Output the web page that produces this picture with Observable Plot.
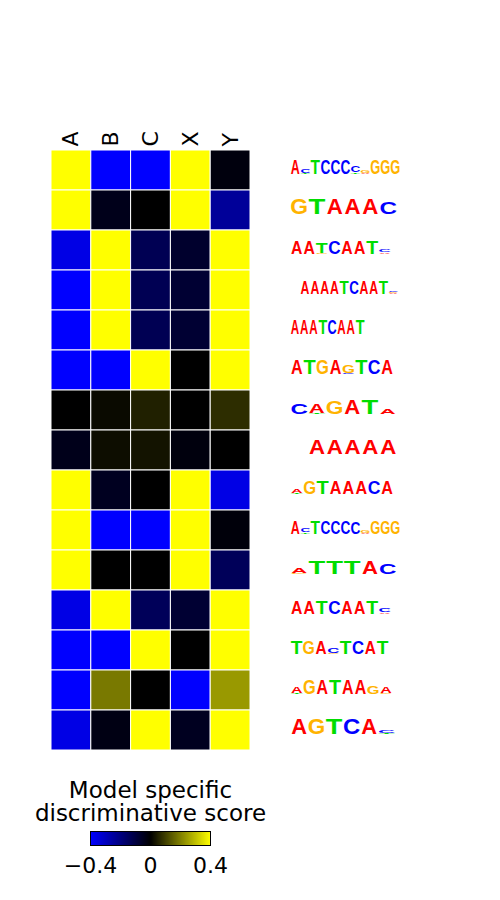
<!DOCTYPE html>
<html><head><meta charset="utf-8">
<script src="https://cdn.jsdelivr.net/npm/d3@7"></script>
<script src="https://cdn.jsdelivr.net/npm/@observablehq/plot@0.6"></script>
<style>body{margin:0;background:#fff;} #chart{width:500px;} svg{display:block;}</style>
</head><body><div id="chart"></div>
<script>
// ---- data ----
const columns = ["A", "B", "C", "X", "Y"];
const motifs = ["ACTCCCCGGG", "GTAAAC", "AATCAATC", "AAAATCAAT", "AAATCAAT", "ATGAGTCA", "CAGAT", "AAAAA",
  "AGTAAACA", "ACTCCCCGGG", "ATTTAC", "AATCAATC", "TGACTCAT", "AGATAAGA", "AGTCAC"];
const scoresA = [0.45, 0.45, -0.36, -0.4, -0.4, -0.4, 0.0, -0.04, 0.45, 0.45, 0.45, -0.36, -0.4, -0.4, -0.36];
const scoresB = [-0.4, -0.04, 0.45, 0.45, 0.45, -0.4, 0.015, 0.02, -0.05, -0.4, 0.0, 0.45, -0.4, 0.19, -0.03];
const scoresC = [-0.4, 0.0, -0.13, -0.13, -0.13, 0.45, 0.05, 0.03, 0.0, -0.4, 0.0, -0.14, 0.45, 0.0, 0.45];
const scoresX = [0.45, 0.45, -0.07, -0.08, -0.08, 0.0, 0.0, -0.02, 0.45, 0.45, 0.45, -0.08, 0.0, -0.4, -0.05];
const scoresY = [-0.02, -0.24, 0.45, 0.45, 0.45, 0.45, 0.07, 0.0, -0.36, -0.015, -0.14, 0.45, 0.45, 0.24, 0.45];
// sequence logos: positions separated by "|", letters stacked bottom->top with heights (bits)
const logos = [
  "A1.75|T.12C.45|T1.75|C1.75|C1.75|C1.75|T.2C.8|A.12G.3|G1.75|G1.75|G1.75",
  "G1.9|T1.9|A1.9|A1.9|A1.9|C1.5",
  "A1.65|A1.65|G.12T1.35|C1.65|A1.65|A1.65|T1.65|A.15C.35",
  "-|A1.6|A1.6|A1.6|A1.6|T1.6|C1.6|A1.6|A1.6|T1.6|A.1G.1C.2",
  "A1.8|A1.8|A1.8|T1.8|C1.8|A1.8|A1.8|T1.8",
  "A1.75|T1.75|G1.75|A1.75|C.12G1.0|T1.75|C1.75|A1.75",
  "C1.25|T.12A1.1|G1.6|A1.8|T1.8|A.6",
  "-|A1.85|A1.85|A1.85|A1.85|A1.85",
  "T.12A.5|G1.6|T1.6|A1.6|A1.6|A1.6|C1.6|A1.6",
  "A1.65|T.15C.4|T1.65|C1.65|C1.65|C1.65|C1.45|A.12G.35|G1.65|G1.65|G1.65",
  "G.12A.7|T1.65|T1.65|T1.65|A1.7|C1.25",
  "A1.6|A1.6|T1.6|C1.6|A1.6|A1.6|T1.6|A.15C.45",
  "T1.6|G1.6|A1.6|G.12C.7|T1.6|C1.6|A1.6|T1.6",
  "T.1A.75|G1.8|A1.8|T1.8|A1.8|A1.8|G.9|G.12A.75",
  "A1.9|G1.9|T1.9|C1.9|A1.9|T.12C.35"
];
const legendTitle = "Model specific\ndiscriminative score";
const legendTicks = [-0.4, 0, 0.4];

// ---- layout / style ----
const logoPitch = [10, 17.8, 12.6, 9.8, 9.3, 12.9, 17.7, 17.8, 12.9, 10, 17.7, 12.6, 12.3, 12.75, 17.5]; // px per logo column
const letterColor = {A: "#ff0000", C: "#0000ff", G: "#ffb300", T: "#00dd00"};
const inkWidth = {A: 0.72, C: 0.66, G: 0.70, T: 0.58};
const PX_PER_BIT = 8, FS = 10, CAP = 0.716;
const colPx = 199 / 5, rowPx = 40;
const logoStart = 6.0;

const allScores = [scoresA, scoresB, scoresC, scoresX, scoresY];
const cells = [];
motifs.forEach((m, r) => columns.forEach((c, j) => cells.push({row: r, col: j, value: allScores[j][r]})));

const letters = [];
logos.forEach((lg, r) => {
  lg.split("|").forEach((p, pos) => {
    if (p === "-") return;
    let off = 0;
    for (const mm of p.matchAll(/([ACGT])([\d.]+)/g)) {
      const h = +mm[2];
      letters.push({row: r, pos, letter: mm[1], h, off, pitch: logoPitch[r],
        x: logoStart + (pos + 0.5) * logoPitch[r] / colPx,
        y: r + 0.5 + 0.075 - off * PX_PER_BIT / rowPx});
      off += h;
    }
  });
});

const colorScale = {type: "linear", domain: [-0.4, 0, 0.4], range: ["#0000ff", "#000000", "#ffff00"], clamp: true, interpolate: "rgb"};

const main = Plot.plot({
  width: 500, height: 760,
  marginLeft: 51, marginRight: 250, marginTop: 150, marginBottom: 10,
  style: {fontFamily: "DejaVu Sans", background: "white"},
  x: {domain: [0, 5], axis: null},
  y: {domain: [0, 15], reverse: true, axis: null},
  color: colorScale,
  marks: [
    Plot.rect(cells, {x1: "col", x2: d => d.col + 1, y1: "row", y2: d => d.row + 1, fill: "value", stroke: "white", strokeWidth: 1}),
    Plot.text(columns, {x: (d, i) => i + 0.5, y: () => 0, text: d => d, rotate: -90, textAnchor: "start", dy: -4, fontSize: 22, fill: "black"}),
    Plot.text(letters, {x: "x", y: "y", text: "letter", fill: d => letterColor[d.letter], textAnchor: "middle", lineAnchor: "bottom",
      fontSize: FS, fontWeight: "bold", fontFamily: "Liberation Sans", ariaLabel: d => "logo " + d.letter})
  ]
});

// stretch logo letters to their column width and information height
const xs = main.scale("x"), ys = main.scale("y");
d3.select(main).selectAll('text[aria-label^="logo"]').each(function(d, i) {
  const L = letters[typeof d === "number" ? d : i];
  const px = xs.apply(L.x), py = ys.apply(L.y);
  const sx = (L.pitch * 0.9) / (inkWidth[L.letter] * FS);
  const sy = (L.h * PX_PER_BIT) / (CAP * FS);
  this.removeAttribute("x"); this.removeAttribute("y");
  this.setAttribute("transform", `translate(${px},${py}) scale(${sx},${sy})`);
});

const fmt = d => d === 0 ? "0" : (d < 0 ? "\u2212" : "") + Math.abs(d).toFixed(1);
const legend = Plot.plot({
  width: 500, height: 140,
  marginLeft: 90, marginRight: 290, marginTop: 71, marginBottom: 55,
  style: {fontFamily: "DejaVu Sans", background: "white"},
  x: {domain: [-0.4, 0.4], axis: null},
  y: {domain: [0, 1], axis: null},
  color: colorScale,
  marks: [
    Plot.raster({x1: -0.4, x2: 0.4, y1: 0, y2: 1, fill: (x, y) => x, width: 120, height: 1, imageRendering: "auto"}),
    Plot.frame({stroke: "black", strokeWidth: 1}),
    Plot.axisX(legendTicks, {tickSize: 0, tickPadding: 12, fontSize: 22, fill: "black", tickFormat: fmt}),
    Plot.text([legendTitle], {frameAnchor: "top", lineAnchor: "bottom", dy: -11, fontSize: 23, lineHeight: 0.96, fill: "black"})
  ]
});

document.getElementById("chart").append(main, legend);
</script>
</body></html>
